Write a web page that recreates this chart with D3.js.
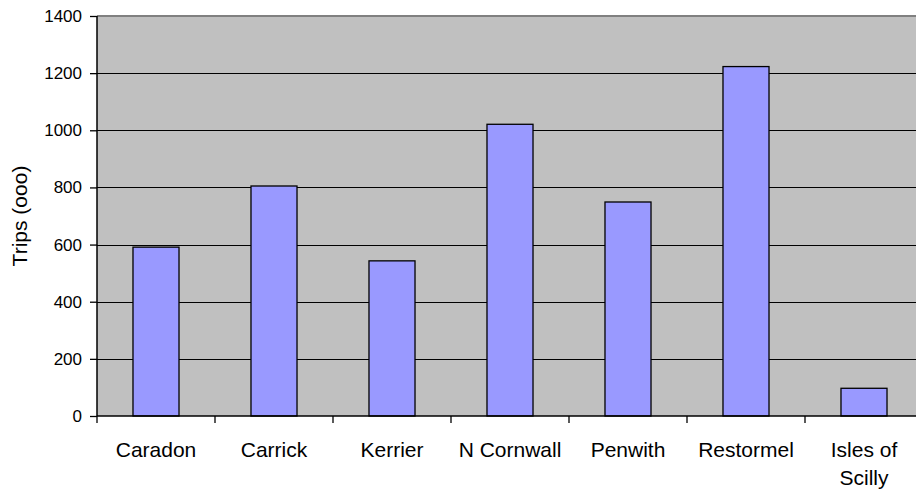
<!DOCTYPE html>
<html><head><meta charset="utf-8">
<script src="https://cdn.jsdelivr.net/npm/d3@7"></script>
<style>html,body{margin:0;padding:0;background:#fff;overflow:hidden}</style>
</head><body>
<script>
const categories = ["Caradon","Carrick","Kerrier","N Cornwall","Penwith","Restormel","Isles of Scilly"];
const categoryLines = [["Caradon"],["Carrick"],["Kerrier"],["N Cornwall"],["Penwith"],["Restormel"],["Isles of","Scilly"]];
const trips = [591, 805, 543, 1021, 749, 1223, 97];
const yTicks = [0,200,400,600,800,1000,1200,1400];
const yTitle = "Trips (ooo)";

const W = 916, H = 491;
const pLeft = 97, pTop = 16, pBottom = 416, step = 118;
const pRight = pLeft + step * categories.length;

const svg = d3.select("body").append("svg").attr("width", W).attr("height", H)
  .style("font-family", "Arial, 'Liberation Sans', sans-serif");

const x = d3.scaleBand().domain(categories).range([pLeft, pRight]).padding(0);
const y = d3.scaleLinear().domain([0, 1400]).range([pBottom, pTop]);

// plot background
svg.append("rect").attr("x", pLeft).attr("y", pTop).attr("width", pRight - pLeft).attr("height", pBottom - pTop)
  .attr("fill", "#C0C0C0");
// top border
svg.append("line").attr("x1", pLeft).attr("x2", pRight).attr("y1", pTop).attr("y2", pTop)
  .attr("stroke", "#808080").attr("stroke-width", 2);

// gridlines
svg.append("g").selectAll("line").data(yTicks.filter(t => t > 0 && t < 1400)).join("line")
  .attr("x1", pLeft).attr("x2", pRight)
  .attr("y1", d => Math.round(y(d)) + 0.5).attr("y2", d => Math.round(y(d)) + 0.5)
  .attr("stroke", "#000").attr("stroke-width", 1);

// bars
const bw = x.bandwidth() * 0.39;
svg.append("g").selectAll("rect").data(trips).join("rect")
  .attr("x", (d, i) => x(categories[i]) + (x.bandwidth() - bw) / 2)
  .attr("y", d => y(d))
  .attr("width", bw)
  .attr("height", d => y(0) - y(d))
  .attr("fill", "#9999FF").attr("stroke", "#000").attr("stroke-width", 1.3);

// y axis
const yAxis = d3.axisLeft(y).tickValues(yTicks).tickSize(7).tickPadding(8).tickFormat(d3.format("d"));
const gy = svg.append("g").attr("transform", `translate(${pLeft},0)`).call(yAxis);
gy.select(".domain").attr("stroke", "#000").attr("stroke-width", 1.5).attr("d", `M0,${pTop}V${pBottom}`);
gy.selectAll(".tick line").attr("stroke", "#000").attr("stroke-width", 1.3);
gy.selectAll(".tick text").attr("font-size", 17).attr("fill", "#000")
  .attr("font-family", "Arial, 'Liberation Sans', sans-serif");

// x axis
const gx = svg.append("g").attr("transform", `translate(0,${pBottom})`);
gx.append("line").attr("x1", pLeft).attr("x2", pRight).attr("y1", 0).attr("y2", 0)
  .attr("stroke", "#000").attr("stroke-width", 1.5);
gx.selectAll("line.tk").data(categories.concat(["__end"])).join("line").attr("class", "tk")
  .attr("x1", (d, i) => i < categories.length ? x(d) : pRight)
  .attr("x2", (d, i) => i < categories.length ? x(d) : pRight)
  .attr("y1", 0).attr("y2", 7).attr("stroke", "#000").attr("stroke-width", 1.3);

const lbl = svg.append("g").selectAll("text").data(categories).join("text")
  .attr("x", d => x(d) + x.bandwidth() / 2)
  .attr("y", 457)
  .attr("text-anchor", "middle").attr("font-size", 21).attr("fill", "#000");
lbl.each(function(d, i) {
  const t = d3.select(this);
  categoryLines[i].forEach((ln, j) => {
    t.append("tspan").attr("x", x(d) + x.bandwidth() / 2).attr("dy", j === 0 ? 0 : 27.7).text(ln);
  });
});

// y title
svg.append("text").attr("transform", "translate(27,216) rotate(-90)")
  .attr("text-anchor", "middle").attr("font-size", 21).attr("fill", "#000").text(yTitle);
</script>
</body></html>
